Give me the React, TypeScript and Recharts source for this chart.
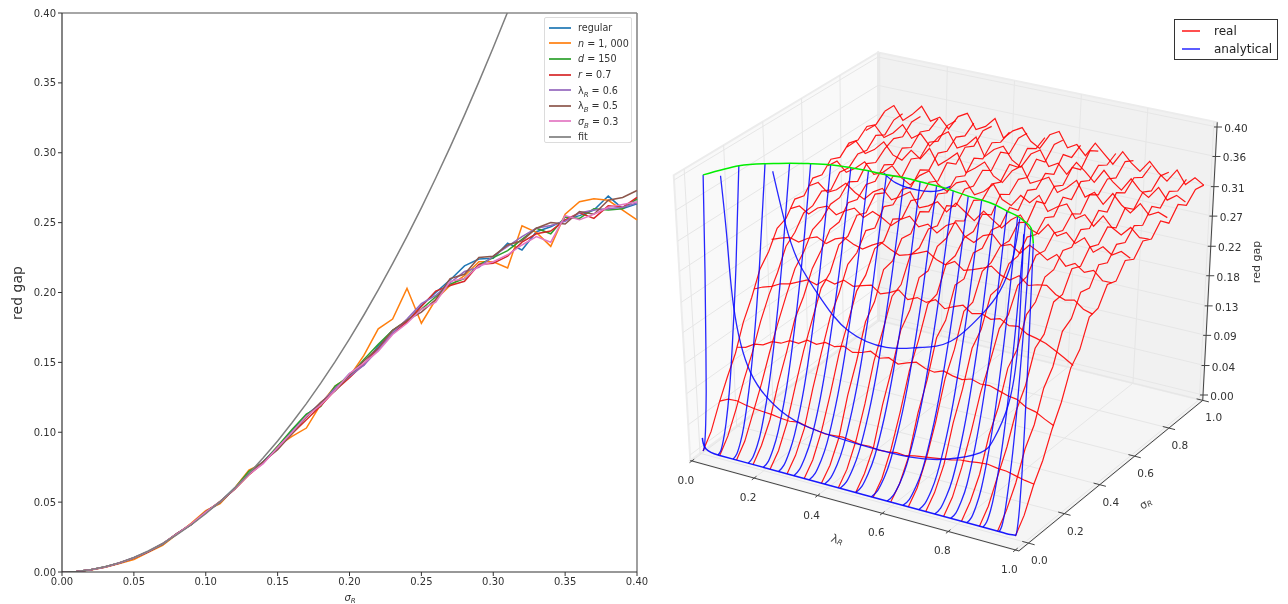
import { CSSProperties } from "react";
import { ComposedChart, LineChart, Line, XAxis, YAxis, Scatter, Polygon, ReferenceLine } from "recharts";

// ---------- left panel: red gap against sigma_R ----------
const sigmaGrid = [0, .01, .02, .03, .04, .05, .06, .07, .08, .09, .1, .11, .12, .13, .14, .15, .16, .17, .18, .19, .2, .21, .22, .23, .24, .25, .26, .27, .28, .29, .3, .31, .32, .33, .34, .35, .36, .37, .38, .39, .4];
const regular = [0, .0004, .0016, .0036, .0065, .0102, .0146, .02, .0272, .0345, .0432, .05, .06, .0705, .079, .0895, .101, .1125, .1205, .131, .142, .148, .162, .173, .179, .1905, .2, .209, .219, .224, .2245, .2353, .2304, .2435, .247, .252, .255, .259, .269, .26, .2635];
const nThousand = [0, .0004, .0015, .0033, .006, .009, .014, .019, .027, .035, .044, .049, .06, .073, .078, .09, .097, .103, .12, .133, .14, .155, .174, .181, .203, .178, .195, .205, .212, .222, .222, .2175, .2478, .243, .233, .256, .265, .267, .266, .259, .252];
const dOneFifty = [0, .0004, .0016, .0037, .0064, .01, .0146, .0198, .0274, .0342, .043, .0498, .0598, .072, .0785, .09, .102, .113, .1185, .133, .14, .152, .163, .173, .18, .188, .197, .206, .21, .22, .225, .23, .238, .246, .242, .254, .253, .26, .259, .26, .267];
const rPoint7 = [0, .0004, .0016, .0036, .0065, .0101, .0145, .0201, .0275, .034, .0428, .0505, .059, .0695, .078, .0885, .099, .109, .119, .13, .139, .149, .16, .171, .179, .19, .201, .205, .208, .22, .221, .226, .236, .242, .244, .252, .257, .253, .262, .261, .268];
const lambdaRPoint6 = [0, .0004, .0016, .0036, .0064, .0101, .0146, .02, .0274, .0342, .0425, .05, .0595, .07, .0785, .089, .1, .111, .121, .1315, .14, .148, .159, .171, .181, .192, .198, .207, .215, .218, .226, .233, .24, .246, .248, .251, .257, .259, .26, .261, .264];
const lambdaBPoint5 = [0, .0004, .0016, .0036, .0065, .01, .0145, .0202, .0276, .0338, .043, .05, .0592, .0702, .079, .0875, .099, .111, .1215, .1295, .141, .151, .1605, .173, .18, .186, .195, .21, .213, .225, .226, .234, .237, .246, .25, .249, .258, .256, .266, .268, .273];
const sigmaBPoint3 = [0, .0004, .0016, .0036, .0066, .0102, .0148, .0203, .0273, .0344, .0428, .0503, .0596, .0698, .0775, .089, .1, .1115, .1195, .13, .142, .1495, .158, .17, .178, .188, .193, .208, .21, .219, .222, .227, .234, .24, .236, .255, .252, .256, .261, .263, .265];
const fit = [0, .0004, .0017, .0038, .0067, .0104, .015, .0204, .0267, .0338, .0417, .0505, .06, .0705, .0817, .0938, .1068, .1205, .1351, .1505, .1668, .1839, .2018, .2206, .2402, .2606, .2819, .304, .3269, .3507, .3753, .4007];

const gapSeries = [
  { key: "regular", values: regular, color: "#1f77b4" },
  { key: "n", values: nThousand, color: "#ff7f0e" },
  { key: "d", values: dOneFifty, color: "#2ca02c" },
  { key: "r", values: rPoint7, color: "#d62728" },
  { key: "lr", values: lambdaRPoint6, color: "#9467bd" },
  { key: "lb", values: lambdaBPoint5, color: "#8c564b" },
  { key: "sb", values: sigmaBPoint3, color: "#e377c2" },
  { key: "fit", values: fit, color: "#7f7f7f" },
];
const gapTicks = [0, .05, .1, .15, .2, .25, .3, .35, .4];

const gapTable = sigmaGrid.map((sigma, i) => {
  const row: Record<string, number | null> = { sigma };
  gapSeries.forEach((s) => {
    row[s.key] = i < s.values.length ? s.values[i] : null;
  });
  return row;
});

// ---------- right panel: surface wires, values are (lambda_R, sigma_R, red gap) ----------
const realLambda = [.02, .047, .074, .101, .129, .156, .183, .21, .237, .264, .291, .319, .346, .373, .4, .427, .454, .481, .509, .536, .563, .59, .617, .644, .671, .699, .726, .753, .78, .807, .834, .861, .889, .916, .943, .97];
const realSigmaLevels = [.13, .228, .324, .42, .518, .614, .71, .807, .903, 1];
const realBySigma = [
  [.054, .06, .061, .058, .056, .055, .054, .052, .051, .053, .05, .048, .046, .047, .048, .046, .044, .045, .043, .044, .046, .045, .048, .05, .052, .054, .056, .059, .06, .062, .063, .061, .06, .057, .054, .052],
  [.113, .116, .124, .126, .134, .135, .142, .141, .149, .146, .152, .149, .153, .147, .15, .155, .148, .152, .146, .151, .155, .149, .147, .152, .148, .146, .15, .146, .147, .143, .139, .137, .129, .126, .119, .113],
  [.18, .186, .19, .197, .2, .206, .212, .208, .219, .215, .224, .218, .222, .226, .216, .221, .228, .217, .223, .219, .226, .216, .222, .227, .218, .221, .216, .22, .213, .215, .207, .204, .2, .193, .186, .178],
  [.235, .24, .244, .24, .249, .254, .247, .257, .262, .255, .251, .26, .267, .26, .254, .258, .263, .269, .26, .255, .263, .253, .257, .262, .268, .258, .254, .263, .252, .256, .258, .248, .243, .246, .236, .232],
  [.262, .269, .26, .272, .278, .268, .277, .284, .273, .285, .279, .27, .282, .29, .277, .284, .274, .288, .295, .278, .272, .285, .29, .276, .281, .271, .286, .279, .27, .281, .267, .274, .264, .27, .258, .258],
  [.278, .286, .274, .281, .294, .283, .276, .29, .298, .284, .292, .302, .281, .287, .296, .284, .3, .29, .28, .297, .287, .278, .293, .303, .286, .281, .298, .284, .292, .279, .29, .272, .283, .274, .282, .275],
  [.29, .3, .286, .295, .308, .292, .298, .311, .296, .288, .305, .315, .298, .29, .306, .312, .294, .302, .316, .296, .29, .308, .3, .314, .293, .303, .31, .291, .3, .286, .304, .29, .282, .296, .284, .285],
  [.3, .312, .296, .305, .32, .303, .298, .316, .306, .325, .302, .314, .327, .3, .31, .322, .304, .297, .318, .328, .305, .312, .32, .3, .31, .324, .302, .312, .297, .316, .302, .293, .31, .296, .303, .298],
  [.307, .318, .302, .312, .328, .31, .32, .304, .322, .332, .31, .318, .333, .306, .32, .328, .31, .302, .325, .334, .312, .32, .306, .327, .316, .303, .324, .31, .3, .32, .306, .298, .316, .3, .31, .303],
  [.318, .33, .31, .322, .338, .318, .327, .312, .334, .342, .32, .328, .343, .316, .33, .338, .32, .312, .336, .344, .322, .33, .316, .338, .325, .312, .334, .32, .31, .328, .314, .304, .324, .305, .318, .31],
];

const realSigma = [.035, .08, .127, .173, .219, .265, .311, .357, .403, .449, .495, .541, .587, .633, .679, .725, .771, .817, .863, .909, .955, 1];
const realLambdaLevels = [.02, .073, .126, .178, .231, .284, .337, .39, .442, .495, .548, .601, .654, .706, .759, .812, .865, .918, .97];
const realByLambda = [
  [.001, .02, .052, .08, .106, .143, .17, .203, .22, .246, .252, .272, .268, .286, .282, .297, .291, .304, .3, .312, .306, .318],
  [.001, .02, .05, .084, .114, .15, .18, .204, .234, .246, .266, .268, .281, .274, .292, .29, .302, .299, .313, .305, .319, .32],
  [.001, .019, .051, .083, .12, .154, .186, .216, .232, .256, .262, .276, .277, .292, .284, .302, .295, .307, .314, .308, .322, .322],
  [.001, .019, .047, .09, .126, .166, .19, .222, .24, .262, .264, .284, .28, .294, .29, .306, .298, .314, .306, .321, .315, .324],
  [.001, .018, .049, .093, .136, .172, .208, .222, .254, .258, .28, .275, .294, .287, .304, .294, .312, .305, .32, .313, .328, .327],
  [.001, .018, .047, .095, .138, .18, .206, .24, .248, .272, .267, .29, .284, .298, .293, .31, .301, .318, .312, .325, .318, .329],
  [.001, .018, .05, .093, .142, .178, .216, .23, .26, .262, .286, .278, .296, .29, .306, .299, .318, .307, .324, .317, .332, .33],
  [.001, .017, .047, .098, .138, .186, .206, .244, .248, .272, .27, .294, .285, .303, .296, .311, .304, .322, .312, .328, .32, .327],
  [.001, .018, .049, .092, .144, .18, .22, .228, .262, .264, .283, .279, .3, .29, .307, .303, .318, .309, .328, .317, .332, .331],
  [.001, .018, .046, .097, .138, .186, .206, .244, .245, .272, .275, .292, .283, .305, .297, .312, .306, .324, .311, .331, .322, .33],
  [.001, .018, .05, .093, .143, .178, .221, .226, .261, .264, .282, .282, .299, .289, .311, .302, .316, .31, .329, .316, .334, .332],
  [.001, .017, .046, .098, .136, .187, .203, .245, .245, .274, .272, .29, .287, .306, .293, .314, .307, .322, .312, .333, .32, .33],
  [.001, .018, .05, .092, .144, .176, .222, .226, .262, .266, .281, .28, .298, .29, .312, .3, .317, .31, .328, .316, .336, .327],
  [.001, .018, .047, .097, .135, .184, .202, .242, .245, .27, .272, .291, .286, .302, .295, .315, .303, .321, .314, .328, .32, .329],
  [.001, .018, .05, .09, .136, .17, .209, .22, .253, .257, .279, .277, .294, .289, .305, .296, .316, .307, .322, .315, .331, .324],
  [.001, .019, .047, .092, .122, .168, .185, .226, .235, .262, .264, .283, .279, .296, .289, .307, .296, .316, .307, .321, .313, .322],
  [.001, .019, .051, .082, .124, .15, .193, .204, .241, .243, .271, .266, .285, .28, .297, .287, .308, .297, .314, .307, .321, .318],
  [.001, .02, .048, .086, .11, .152, .173, .214, .223, .252, .249, .274, .268, .286, .28, .296, .288, .307, .296, .312, .304, .313],
  [.001, .02, .052, .076, .11, .138, .177, .194, .231, .235, .26, .256, .277, .27, .288, .282, .3, .288, .307, .297, .312, .31],
];

// analytical curves: one row of sigma per lambda, shared gap levels, capped near 0.39
const analyticLambda = [.02, .0675, .115, .1625, .21, .2575, .305, .3525, .4, .4475, .495, .5425, .59, .6375, .685, .7325, .78, .8275, .875, .9225, .97];
const analyticCapLambda = [.014, .058, .107, .158, .205, .252, .306, .355, .408, .457, .506, .556, .61, .661, .704, .752, .798, .839, .877, .911, .968];
const analyticGap = [.001, .004, .016, .035, .079, .14, .248, .388];
const analyticSigma = [
  [.035, .043, .051, .059, .071, .082, .098, .114],
  [.035, .053, .07, .088, .115, .141, .177, .212],
  [.035, .057, .079, .101, .134, .168, .212, .256],
  [.035, .06, .086, .111, .149, .187, .238, .289],
  [.035, .063, .09, .118, .16, .201, .257, .312],
  [.035, .065, .094, .124, .168, .212, .271, .33],
  [.035, .065, .095, .126, .171, .216, .277, .337],
  [.035, .066, .096, .127, .172, .218, .279, .34],
  [.035, .065, .096, .126, .171, .217, .277, .338],
  [.035, .066, .096, .127, .173, .219, .281, .342],
  [.035, .065, .095, .126, .171, .216, .277, .337],
  [.035, .065, .095, .124, .169, .214, .273, .333],
  [.035, .064, .093, .121, .165, .208, .265, .323],
  [.035, .063, .09, .118, .159, .2, .255, .31],
  [.035, .062, .089, .115, .156, .196, .249, .303],
  [.035, .061, .086, .112, .15, .188, .239, .29],
  [.035, .058, .081, .105, .139, .174, .221, .267],
  [.035, .057, .078, .1, .132, .164, .207, .25],
  [.035, .054, .073, .091, .12, .148, .185, .223],
  [.035, .051, .067, .082, .106, .13, .161, .193],
  [.035, .042, .049, .056, .066, .076, .09, .104],
];
const baseLambda = [.02, .022, .03, .045, .07, .15, .3, .5, .7, .85, .93, .955, .97];
const baseGap = [.02, .012, .005, .002, .001, .001, .001, .001, .001, .001, .001, .001, .002];
const lowLambda = [.054, .065, .076, .12, .21, .3, .444, .605, .717, .81, .85, .89, .915, .925];
const lowGap = [.388, .296, .2, .108, .063, .049, .044, .045, .056, .076, .1, .152, .24, .392];
const midLambda = [.15, .183, .222, .285, .365, .478, .575, .667, .754, .808, .845, .862];
const midGap = [.388, .314, .26, .216, .179, .168, .179, .198, .244, .284, .336, .392];
const highLambda = [.405, .44, .5, .557, .597];
const highGap = [.392, .381, .377, .381, .392];
const analyticSweeps = [
  { sigma: .13, lambda: lowLambda, gap: lowGap },
  { sigma: .22, lambda: midLambda, gap: midGap },
  { sigma: .33, lambda: highLambda, gap: highGap },
];

const axisTicks = [0, .2, .4, .6, .8, 1];
const gapTicks3d = [0, .044, .089, .133, .178, .222, .267, .311, .356, .4];

// ---------- projection of the 3d box onto the picture plane ----------
type Pt = number[];

function plane([o, b, c, d]: Pt[]) {
  const sx = o[0] - b[0] + c[0] - d[0];
  const sy = o[1] - b[1] + c[1] - d[1];
  const dx1 = b[0] - c[0], dx2 = d[0] - c[0], dy1 = b[1] - c[1], dy2 = d[1] - c[1];
  const den = dx1 * dy2 - dx2 * dy1;
  const g = (sx * dy2 - dx2 * sy) / den;
  const h = (dx1 * sy - sx * dy1) / den;
  return (u: number, v: number) => {
    const w = 1 + g * u + h * v;
    return [
      (o[0] + (b[0] - o[0] + g * b[0]) * u + (d[0] - o[0] + h * d[0]) * v) / w,
      (o[1] + (b[1] - o[1] + g * b[1]) * u + (d[1] - o[1] + h * d[1]) * v) / w,
    ];
  };
}
const floorPlane = plane([[690, 455], [1019, 545], [1203, 395], [878, 315]]);
const topPlane = plane([[674, 180], [1024, 250], [1217, 127], [878, 57]]);
const GAP_MAX = 0.4;
const FLOOR = -0.008;
const CEIL = 0.407;
// the axes' 0 and 1 sit a little inside the box
const tickL = (v: number) => .005 + .985 * v;
const tickS = (v: number) => .05 + .95 * v;

function project(l: number, s: number, gap: number) {
  const a = floorPlane(l, s);
  const b = topPlane(l, s);
  const t = gap / GAP_MAX;
  return { px: a[0] + (b[0] - a[0]) * t, py: a[1] + (b[1] - a[1]) * t };
}

const wallPath = (pts: number[][]) => pts.map(([l, s, g]) => project(l, s, g));
const FONT = "'DejaVu Sans', sans-serif";
const RIGHT_X = 660;

function Wall({ pts, fill }: { pts: number[][]; fill: string }) {
  const points = wallPath(pts).map((p) => ({ x: p.px - RIGHT_X, y: p.py }));
  return <Polygon points={points} fill={fill} stroke="#ececec" strokeWidth={2} />;
}

function Wire({ points, stroke, width, curve = "linear", opacity = 1 }: { points: { px: number; py: number }[]; stroke: string; width: number; curve?: "linear" | "natural"; opacity?: number }) {
  return (
    <Line
      data={points}
      dataKey="py"
      type={curve}
      stroke={stroke}
      strokeWidth={width}
      strokeOpacity={opacity}
      dot={false}
      activeDot={false}
      legendType="none"
      isAnimationActive={false}
    />
  );
}

const gridWires = [
  ...axisTicks.map((v) => wallPath([[tickL(v), 0, FLOOR], [tickL(v), 1, FLOOR]])),
  ...axisTicks.map((v) => wallPath([[0, tickS(v), FLOOR], [1, tickS(v), FLOOR]])),
  ...axisTicks.map((v) => wallPath([[0, tickS(v), FLOOR], [0, tickS(v), CEIL]])),
  ...axisTicks.map((v) => wallPath([[tickL(v), 1, FLOOR], [tickL(v), 1, CEIL]])),
  ...gapTicks3d.map((v) => wallPath([[0, 0, v], [0, 1, v]])),
  ...gapTicks3d.map((v) => wallPath([[0, 1, v], [1, 1, v]])),
];
const axisWires = [
  wallPath([[0, 0, FLOOR], [1, 0, FLOOR]]),
  wallPath([[1, 0, FLOOR], [1, 1, FLOOR]]),
  wallPath([[1, 1, FLOOR], [1, 1, CEIL]]),
  ...axisTicks.map((v) => wallPath([[tickL(v), -.012, FLOOR], [tickL(v), .012, FLOOR]])),
  ...axisTicks.map((v) => wallPath([[1.018, tickS(v), FLOOR], [.982, tickS(v), FLOOR]])),
  ...gapTicks3d.map((v) => {
    const p = project(1, 1, v);
    return [{ px: p.px - 3, py: p.py }, { px: p.px + 5, py: p.py }];
  }),
];
const tickText = [
  ...axisTicks.map((v) => {
    const p = project(tickL(v), 0, FLOOR);
    return { px: p.px - 6, py: p.py + 20, text: v.toFixed(1) };
  }),
  ...axisTicks.map((v) => {
    const p = project(1, tickS(v), FLOOR);
    return { px: p.px + 11, py: p.py + 18, text: v.toFixed(1) };
  }),
  ...gapTicks3d.map((v) => {
    const p = project(1, 1, v);
    return { px: p.px + 19, py: p.py + 2, text: v.toFixed(2) };
  }),
];

const sigmaWires = realBySigma.map((gaps, j) => realLambda.map((l, i) => project(l, realSigmaLevels[j], gaps[i])));
const lambdaWires = realByLambda.map((gaps, j) => realSigma.map((s, i) => project(realLambdaLevels[j], s, gaps[i])));
const analyticWires = analyticSigma.map((row, j) =>
  row.map((s, i) => {
    const l = analyticLambda[j] + (analyticCapLambda[j] - analyticLambda[j]) * (i / (row.length - 1));
    return project(l, s, analyticGap[i]);
  })
);
const capWire = analyticSigma.map((row, j) => project(analyticCapLambda[j], row[row.length - 1], analyticGap[analyticGap.length - 1]));
const baseWire = baseLambda.map((l, i) => project(l, .035, baseGap[i]));
const sweepWires = analyticSweeps.map((w) => w.lambda.map((l, i) => project(l, w.sigma, w.gap[i])));

// ---------- legends ----------
const legendRow: CSSProperties = { display: "flex", alignItems: "center", height: 15.6, whiteSpace: "nowrap" };
const Sub = ({ children }: { children: string }) => <sub style={{ fontSize: 7, fontStyle: "italic", lineHeight: 0 }}>{children}</sub>;
const gapLegend = [
  { color: "#1f77b4", label: <>regular</> },
  { color: "#ff7f0e", label: <><i>n</i> = 1, 000</> },
  { color: "#2ca02c", label: <><i>d</i> = 150</> },
  { color: "#d62728", label: <><i>r</i> = 0.7</> },
  { color: "#9467bd", label: <>λ<Sub>R</Sub> = 0.6</> },
  { color: "#8c564b", label: <>λ<Sub>B</Sub> = 0.5</> },
  { color: "#e377c2", label: <><i>σ</i><Sub>B</Sub> = 0.3</> },
  { color: "#7f7f7f", label: <>fit</> },
];

function GapLegend() {
  return (
    <div style={{ position: "absolute", left: 544, top: 17, boxSizing: "border-box", width: 88, height: 126, padding: "2px 0 0 4px", border: "1px solid #dcdcdc", borderRadius: 2, background: "#fff", fontFamily: FONT, fontSize: 9.6, color: "#333" }}>
      {gapLegend.map((item, i) => (
        <div key={i} style={legendRow}>
          <span style={{ width: 22, height: 2, background: item.color, opacity: .85, marginRight: 7 }} />
          <span>{item.label}</span>
        </div>
      ))}
    </div>
  );
}

function SurfaceLegend() {
  const rows = [{ color: "#ff3030", text: "real" }, { color: "#4040ff", text: "analytical" }];
  return (
    <div style={{ position: "absolute", left: 1174, top: 19, boxSizing: "border-box", width: 104, height: 41, padding: "2px 0 0 7px", border: "1.3px solid #333", background: "#fff", fontFamily: FONT, fontSize: 12, color: "#222" }}>
      {rows.map((r) => (
        <div key={r.text} style={{ display: "flex", alignItems: "center", height: 18 }}>
          <span style={{ width: 18, height: 2, background: r.color, opacity: .85, marginRight: 14 }} />
          <span>{r.text}</span>
        </div>
      ))}
    </div>
  );
}

export default function App() {
  return (
    <div style={{ position: "absolute", left: 0, top: 0, width: 1288, height: 604, background: "#fff", overflow: "hidden", filter: "blur(0.4px)" }}>
      <div style={{ position: "absolute", left: 0, top: 0 }}>
        <LineChart width={650} height={604} data={gapTable} margin={{ top: 13, right: 13, bottom: 0, left: 0 }}>
          <XAxis
            dataKey="sigma"
            type="number"
            domain={[0, .4]}
            ticks={gapTicks}
            interval={0}
            height={32}
            tickFormatter={(v: number) => v.toFixed(2)}
            tick={{ fontSize: 10, fill: "#333", fontFamily: FONT }}
            tickSize={4}
            tickLine={{ stroke: "#333" }}
            axisLine={{ stroke: "#333", strokeWidth: 1.2 }}
          />
          <YAxis
            type="number"
            domain={[0, .4]}
            ticks={gapTicks}
            interval={0}
            width={62}
            allowDataOverflow
            tickFormatter={(v: number) => v.toFixed(2)}
            tick={{ fontSize: 10, fill: "#333", fontFamily: FONT }}
            tickSize={4}
            tickLine={{ stroke: "#333" }}
            axisLine={{ stroke: "#333", strokeWidth: 1.2 }}
          />
          <ReferenceLine y={.4} stroke="#888" strokeWidth={1.6} />
          <ReferenceLine x={.4} stroke="#888" strokeWidth={1.6} />
          {gapSeries.map((s) => (
            <Line
              key={s.key}
              dataKey={s.key}
              stroke={s.color}
              strokeWidth={1.5}
              dot={false}
              activeDot={false}
              connectNulls={false}
              isAnimationActive={false}
            />
          ))}
          <text x={18} y={293} transform="rotate(-90 18 293)" textAnchor="middle" dominantBaseline="middle" fontFamily={FONT} fontSize={14} fill="#333">red gap</text>
          <text x={350} y={601} textAnchor="middle" fontFamily={FONT} fontSize={10} fontStyle="italic" fill="#333">
            σ<tspan fontSize={7} dy={2}>R</tspan>
          </text>
        </LineChart>
      </div>
      <GapLegend />

      <div style={{ position: "absolute", left: RIGHT_X, top: 0 }}>
        <ComposedChart width={628} height={604} margin={{ top: 0, right: 0, bottom: 0, left: 0 }}>
          <XAxis dataKey="px" type="number" domain={[RIGHT_X, 1288]} allowDataOverflow hide />
          <YAxis type="number" domain={[0, 604]} reversed allowDataOverflow hide />
          <Wall pts={[[0, 0, FLOOR], [1, 0, FLOOR], [1, 1, FLOOR], [0, 1, FLOOR]]} fill="#f5f5f5" />
          <Wall pts={[[0, 0, FLOOR], [0, 1, FLOOR], [0, 1, CEIL], [0, 0, CEIL]]} fill="#f9f9f9" />
          <Wall pts={[[0, 1, FLOOR], [1, 1, FLOOR], [1, 1, CEIL], [0, 1, CEIL]]} fill="#f1f1f1" />
          {gridWires.map((w, i) => <Wire key={`g${i}`} points={w} stroke="#e6e6e6" width={1} />)}
          {axisWires.map((w, i) => <Wire key={`a${i}`} points={w} stroke="#444" width={1} />)}
          {lambdaWires.map((w, i) => <Wire key={`rl${i}`} points={w} stroke="#ff0000" width={1.2} opacity={.9} />)}
          {sigmaWires.map((w, i) => <Wire key={`rs${i}`} points={w} stroke="#ff0000" width={1.2} opacity={.9} />)}
          {analyticWires.map((w, i) => <Wire key={`bl${i}`} points={w} stroke="#0000ff" width={1.3} curve="natural" opacity={.85} />)}
          {sweepWires.map((w, i) => <Wire key={`bs${i}`} points={w} stroke="#0000ff" width={1.3} curve="natural" opacity={.85} />)}
          <Wire points={baseWire} stroke="#0000ff" width={1.5} curve="natural" opacity={.9} />
          <Wire points={capWire} stroke="#00ee00" width={1.5} curve="natural" />
          <Scatter
            data={tickText}
            dataKey="py"
            isAnimationActive={false}
            legendType="none"
            shape={(p: any) => (
              <text x={p.cx} y={p.cy} textAnchor="middle" dominantBaseline="middle" fontFamily={FONT} fontSize={10.5} fill="#333">
                {p.payload.text}
              </text>
            )}
          />
          <text x={177} y={540} transform="rotate(20 177 540)" textAnchor="middle" dominantBaseline="middle" fontFamily={FONT} fontSize={11.5} fill="#444">
            λ<tspan fontSize={7.5} dy={2} fontStyle="italic">R</tspan>
          </text>
          <text x={486} y={504} transform="rotate(-30 486 504)" textAnchor="middle" dominantBaseline="middle" fontFamily={FONT} fontSize={11} fill="#444">
            σ<tspan fontSize={7.5} dy={2} fontStyle="italic">R</tspan>
          </text>
          <text x={597} y={262} transform="rotate(-90 597 262)" textAnchor="middle" dominantBaseline="middle" fontFamily={FONT} fontSize={11} fill="#333">red gap</text>
        </ComposedChart>
      </div>
      <SurfaceLegend />
    </div>
  );
}
